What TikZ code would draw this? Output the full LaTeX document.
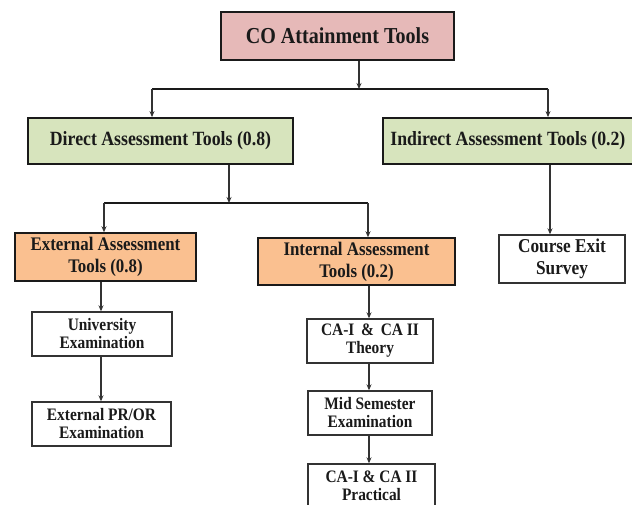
\documentclass[tikz,border=0pt]{standalone}
\usepackage{fontspec}
\setmainfont{Liberation Serif}
% narrow bold serif used for all box labels
\newfontfamily\labelfont[FakeStretch=0.88]{Liberation Serif}
\usetikzlibrary{arrows.meta}
\definecolor{boxpink}{HTML}{E6B9B8}
\definecolor{boxgreen}{HTML}{D7E4BD}
\definecolor{boxorange}{HTML}{FAC090}
\definecolor{ink}{HTML}{1A1A1A}
\definecolor{wire}{HTML}{333333}
\begin{document}
\begin{tikzpicture}[x=1pt,y=-1pt,
  box/.style={rectangle, draw=ink, text=ink, align=center, inner sep=0pt},
  rootbox/.style={box, fill=boxpink, line width=1.8pt,
    font=\labelfont\bfseries\fontsize{22.8}{26}\selectfont},
  groupbox/.style={box, fill=boxgreen, line width=1.8pt,
    font=\labelfont\bfseries\fontsize{20.2}{23}\selectfont},
  subbox/.style={box, fill=boxorange, line width=1.5pt,
    font=\labelfont\bfseries\fontsize{19.2}{22}\selectfont},
  exitbox/.style={box, fill=white, draw=wire, line width=1.4pt,
    font=\labelfont\bfseries\fontsize{19.6}{22}\selectfont},
  leafbox/.style={box, fill=white, draw=wire, line width=1.4pt,
    font=\labelfont\bfseries\fontsize{17.5}{18}\selectfont},
  link/.style={draw=wire, line width=1.2pt,
    -{Stealth[length=6pt,width=5pt]}},
  bar/.style={draw=ink, line width=2pt}
]
\useasboundingbox (0,0) rectangle (632,504);
\fill[white] (0,0) rectangle (632,504);

% root
\node[rootbox, minimum width=233pt, minimum height=48pt] (root) at (337.5,36) {CO Attainment Tools};

% first level
\node[groupbox, minimum width=265pt, minimum height=46pt] (direct) at (160.5,141) {Direct Assessment Tools (0.8)};
\node[groupbox, minimum width=250pt, minimum height=46pt, anchor=west] (indirect) at (382,141) {Indirect Assessment Tools (0.2)};

% second level
\node[subbox, minimum width=181pt, minimum height=48pt] (external) at (105.5,257) {External Assessment\\Tools (0.8)};
\node[subbox, minimum width=197pt, minimum height=47pt] (internal) at (356.5,261.5) {Internal Assessment\\Tools (0.2)};
\node[exitbox, minimum width=126pt, minimum height=48pt] (exit) at (562,259) {Course Exit\\Survey};

% external branch
\node[leafbox, minimum width=140pt, minimum height=44pt] (univ) at (102,334) {University\\Examination};
\node[leafbox, minimum width=139pt, minimum height=44pt] (pror) at (101.5,424) {External PR/OR\\Examination};

% internal branch
\node[leafbox, minimum width=126pt, minimum height=44pt] (theory) at (370,341) {CA-I \,\&\, CA II\\Theory};
\node[leafbox, minimum width=124pt, minimum height=44pt] (midsem) at (370,413) {Mid Semester\\Examination};
\node[leafbox, minimum width=127pt, minimum height=44pt] (pract) at (371.5,486) {CA-I \& CA II\\Practical};

% connector positions
\coordinate (rootjoin) at (359,89);
\coordinate (barL) at (152,89);
\coordinate (barR) at (548,89);
\coordinate (dirjoin) at (229,203);
\coordinate (subL) at (104,203);
\coordinate (subR) at (368,203);
\coordinate (indx) at (550,0);
\coordinate (extx) at (101,0);
\coordinate (intx) at (369,0);

% root to first level
\draw[bar] (barL) -- (barR);
\draw[link] (root.south -| rootjoin) -- (rootjoin);
\draw[link] (barL) -- (barL |- direct.north);
\draw[link] (barR) -- (barR |- indirect.north);

% direct to second level
\draw[bar] (subL) -- (subR);
\draw[link] (direct.south -| dirjoin) -- (dirjoin);
\draw[link] (subL) -- (subL |- external.north);
\draw[link] (subR) -- (subR |- internal.north);

% indirect
\draw[link] (indirect.south -| indx) -- (indx |- exit.north);

% external chain
\draw[link] (external.south -| extx) -- (extx |- univ.north);
\draw[link] (univ.south -| extx) -- (extx |- pror.north);

% internal chain
\draw[link] (internal.south -| intx) -- (intx |- theory.north);
\draw[link] (theory.south -| intx) -- (intx |- midsem.north);
\draw[link] (midsem.south -| intx) -- (intx |- pract.north);
\end{tikzpicture}
\end{document}
